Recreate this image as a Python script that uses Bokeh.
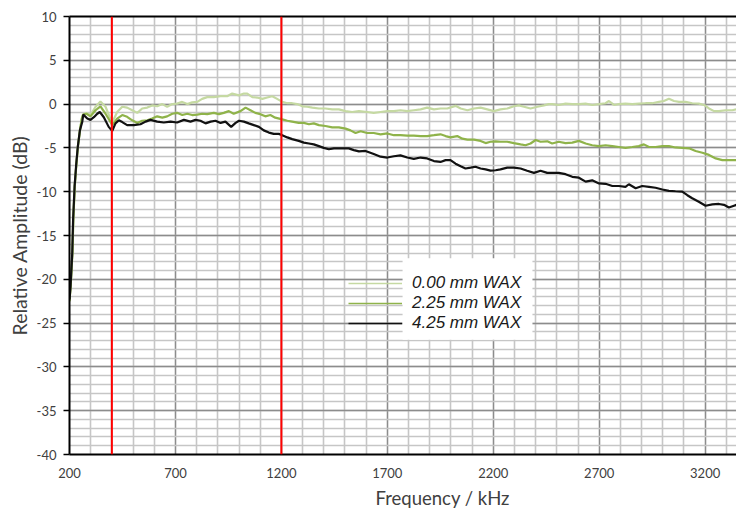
import math
from bokeh.plotting import figure
from bokeh.models import (FixedTicker, Span, Legend, LegendItem, Title,
                          LinearAxis, BoxAnnotation)
from bokeh.embed import file_html
from bokeh.resources import INLINE

# ---------------- data (frequency kHz, relative amplitude dB) ----------------
wax_000 = [(200,-22.5),(206,-20.5),(214,-16.8),(218,-13.0),(225,-9.2),(233,-6.6),(240,-4.7),
    (250,-2.9),(258,-1.6),(264,-1.2),(280,-1.0),(299,-1.25),(323,-0.3),(346,0.3),(370,-0.3),
    (390,-1.5),(402,-2.1),(425,-0.9),(449,-0.3),(472,-0.4),(496,-0.7),(520,-1.0),(543,-0.5),
    (567,-0.4),(590,-0.15),(614,-0.25),(638,0.0),(661,-0.3),(685,0.0),(708,0.05),(732,0.25),
    (756,0.0),(779,0.2),(803,0.25),(826,0.6),(850,0.8),(881,0.8),(913,0.9),(944,0.9),(968,1.2),
    (1000,1.0),(1023,1.2),(1039,1.2),(1063,0.8),(1086,0.75),(1110,0.6),(1133,0.75),(1157,0.9),
    (1180,0.6),(1204,0.25),(1228,0.1),(1251,0.1),(1275,0.0),(1299,-0.25),(1322,-0.3),(1346,-0.4),
    (1377,-0.5),(1408,-0.5),(1440,-0.6),(1471,-0.6),(1503,-0.8),(1534,-0.9),(1566,-0.8),
    (1605,-0.9),(1636,-1.0),(1668,-0.9),(1700,-0.8),(1731,-0.8),(1762,-0.7),(1794,-0.8),
    (1825,-0.7),(1857,-0.6),(1888,-0.4),(1920,-0.6),(1951,-0.5),(1983,-0.5),(2022,-0.2),
    (2046,-0.5),(2078,-0.7),(2109,-0.5),(2140,-0.4),(2172,-0.6),(2203,-0.8),(2234,-0.6),
    (2266,-0.5),(2297,-0.25),(2321,-0.15),(2345,-0.3),(2376,-0.5),(2408,-0.3),(2439,-0.15),
    (2462,0.0),(2478,0.0),(2509,-0.1),(2541,0.05),(2573,0.0),(2604,0.0),(2636,0.05),(2667,-0.1),
    (2699,0.0),(2730,0.1),(2746,0.35),(2770,-0.1),(2793,0.0),(2824,0.05),(2856,0.0),(2887,0.05),
    (2919,0.1),(2950,0.1),(2982,0.25),(3005,0.35),(3029,0.6),(3053,0.35),(3077,0.25),(3108,0.25),
    (3139,0.1),(3170,0.05),(3195,-0.1),(3218,-0.5),(3242,-0.8),(3265,-0.8),(3297,-0.7),
    (3328,-0.7),(3348,-0.6)]

wax_225 = [(200,-22.5),(206,-20.6),(214,-16.9),(218,-13.1),(225,-9.3),(233,-6.7),(240,-4.8),
    (250,-2.9),(258,-1.7),(264,-1.2),(280,-1.1),(299,-1.4),(323,-0.7),(346,-0.25),(370,-1.1),
    (390,-1.9),(402,-2.4),(425,-1.65),(449,-1.25),(472,-1.45),(496,-1.85),(520,-2.15),(543,-1.9),
    (567,-1.85),(590,-1.65),(614,-1.4),(638,-1.55),(661,-1.4),(685,-1.1),(708,-1.0),(732,-1.25),
    (756,-1.1),(779,-1.25),(803,-1.2),(826,-1.1),(850,-1.15),(881,-1.0),(905,-1.15),(928,-1.0),
    (952,-0.8),(975,-1.1),(1007,-0.8),(1031,-0.4),(1054,-0.7),(1077,-1.0),(1101,-1.15),
    (1124,-1.4),(1148,-1.25),(1171,-1.55),(1204,-1.75),(1228,-1.9),(1251,-2.0),(1282,-2.15),
    (1306,-2.15),(1330,-2.3),(1353,-2.2),(1377,-2.4),(1408,-2.5),(1440,-2.65),(1471,-2.65),
    (1503,-2.8),(1526,-3.0),(1550,-3.3),(1574,-3.1),(1605,-3.3),(1636,-3.3),(1668,-3.45),
    (1700,-3.35),(1731,-3.55),(1762,-3.55),(1794,-3.6),(1825,-3.6),(1857,-3.65),(1888,-3.65),
    (1920,-3.55),(1951,-3.45),(1975,-3.65),(1998,-3.8),(2030,-3.65),(2054,-3.95),(2078,-4.05),
    (2109,-4.05),(2140,-4.2),(2164,-4.45),(2187,-4.3),(2211,-4.25),(2234,-4.3),(2266,-4.3),
    (2297,-4.45),(2329,-4.6),(2352,-4.7),(2376,-4.5),(2400,-4.1),(2423,-4.3),(2455,-4.25),
    (2478,-4.5),(2509,-4.3),(2541,-4.45),(2573,-4.4),(2604,-4.2),(2636,-4.5),(2667,-4.7),
    (2699,-4.8),(2730,-4.7),(2762,-4.8),(2793,-4.9),(2824,-5.0),(2856,-4.9),(2887,-4.8),
    (2911,-4.6),(2935,-4.9),(2966,-4.9),(2998,-4.8),(3029,-4.8),(3060,-4.95),(3092,-5.0),
    (3124,-5.05),(3155,-5.35),(3187,-5.55),(3218,-5.8),(3250,-6.2),(3281,-6.4),(3312,-6.4),
    (3348,-6.4)]

wax_425 = [(200,-22.3),(205,-20.8),(213,-17.0),(217,-13.2),(224,-9.4),(232,-6.8),(239,-4.9),
    (249,-3.0),(260,-2.05),(265,-1.2),(284,-1.65),(299,-1.8),(315,-1.5),(331,-1.1),(343,-0.9),
    (362,-1.5),(385,-2.6),(402,-3.06),(417,-2.2),(433,-1.85),(449,-2.05),(472,-2.4),(504,-2.4),
    (535,-2.3),(559,-2.0),(582,-1.8),(614,-2.0),(645,-2.1),(677,-2.0),(708,-2.1),(740,-1.8),
    (771,-2.0),(795,-1.8),(818,-1.9),(842,-2.2),(866,-2.0),(889,-1.9),(913,-2.15),(936,-2.0),
    (963,-2.6),(984,-2.15),(1000,-1.9),(1023,-2.0),(1046,-2.2),(1070,-2.4),(1094,-2.6),
    (1117,-3.0),(1141,-3.25),(1164,-3.4),(1188,-3.4),(1204,-3.55),(1228,-3.8),(1251,-4.0),
    (1282,-4.2),(1306,-4.4),(1330,-4.5),(1353,-4.6),(1377,-4.8),(1400,-5.0),(1424,-5.15),
    (1448,-5.05),(1471,-5.05),(1495,-5.05),(1518,-5.05),(1542,-5.25),(1566,-5.4),(1597,-5.35),
    (1636,-5.7),(1668,-6.0),(1700,-6.1),(1731,-5.95),(1762,-5.85),(1794,-6.1),(1825,-6.25),
    (1857,-6.1),(1888,-6.2),(1920,-6.5),(1951,-6.6),(1975,-6.4),(1998,-6.4),(2022,-6.8),
    (2046,-7.1),(2069,-7.35),(2093,-7.25),(2116,-7.15),(2140,-7.35),(2164,-7.45),(2187,-7.6),
    (2211,-7.55),(2234,-7.45),(2266,-7.25),(2297,-7.25),(2329,-7.35),(2360,-7.6),(2392,-7.85),
    (2423,-7.6),(2455,-7.85),(2478,-7.85),(2509,-7.85),(2541,-8.0),(2573,-8.3),(2604,-8.4),
    (2636,-8.85),(2667,-8.7),(2699,-9.05),(2730,-9.1),(2762,-9.35),(2793,-9.35),(2824,-9.45),
    (2840,-9.15),(2872,-9.6),(2903,-9.35),(2935,-9.45),(2966,-9.55),(2998,-9.75),(3029,-9.9),
    (3060,-9.95),(3092,-10.0),(3116,-10.4),(3139,-10.75),(3170,-11.15),(3202,-11.6),
    (3234,-11.45),(3265,-11.4),(3289,-11.5),(3312,-11.8),(3336,-11.6),(3348,-11.5)]

series_labels = ["0.00 mm WAX", "2.25 mm WAX", "4.25 mm WAX"]
series_colors = ["#c5d9a2", "#8fb34a", "#111111"]
marker_freqs = [400, 1200]

x_ticks = [200, 700, 1200, 1700, 2200, 2700, 3200]
x_minor = list(range(200, 3400, 100))
y_ticks = [-40, -35, -30, -25, -20, -15, -10, -5, 0, 5, 10]
y_minor = list(range(-40, 11, 1))

# ---------------- figure ----------------
p = figure(width=736, height=512, x_range=(200, 3348), y_range=(-40, 10),
           output_backend="svg", toolbar_location=None,
           min_border_left=69, min_border_right=0, min_border_top=16, min_border_bottom=57)
p.outline_line_color = None
p.background_fill_color = "white"
p.border_fill_color = "white"

FONT = "Lato"
TXT = "#404040"

xt = FixedTicker(ticks=x_ticks, minor_ticks=x_minor)
yt = FixedTicker(ticks=y_ticks, minor_ticks=y_minor)
p.xaxis.ticker = xt
p.yaxis.ticker = yt
p.xgrid.ticker = xt
p.ygrid.ticker = yt

for g in (p.xgrid, p.ygrid):
    g.grid_line_color = "#8c8c8c"
    g.grid_line_width = 1.3
    g.minor_grid_line_color = "#c6c6c6"
    g.minor_grid_line_width = 1.6

# x axis
p.xaxis.axis_line_color = "black"
p.xaxis.axis_line_width = 2
p.xaxis.major_tick_out = 0
p.xaxis.major_tick_in = 0
p.xaxis.minor_tick_out = 0
p.xaxis.minor_tick_in = 0
p.xaxis.major_label_standoff = 13
p.xaxis.major_label_text_font = FONT
p.xaxis.major_label_text_font_size = "13px"
p.xaxis.major_label_text_color = TXT

# y axis
p.yaxis.axis_line_color = "black"
p.yaxis.axis_line_width = 2
p.yaxis.major_tick_out = 6
p.yaxis.major_tick_in = 0
p.yaxis.major_tick_line_color = "black"
p.yaxis.major_tick_line_width = 1.5
p.yaxis.minor_tick_out = 0
p.yaxis.minor_tick_in = 0
p.yaxis.major_label_standoff = 7
p.yaxis.major_label_text_font = FONT
p.yaxis.major_label_text_font_size = "13px"
p.yaxis.major_label_text_color = TXT
p.yaxis.major_label_overrides = {v: str(v) for v in y_ticks}

# top border line
top = LinearAxis(ticker=FixedTicker(ticks=[]), axis_line_color="black", axis_line_width=2,
                 major_tick_out=0, major_tick_in=0, minor_tick_out=0, minor_tick_in=0,
                 major_label_text_font_size="0px", major_label_standoff=0)
p.add_layout(top, "above")

# axis titles
p.add_layout(Title(text="Frequency / kHz", align="left", offset=306, standoff=8,
                   text_font=FONT, text_font_size="18.5px", text_font_style="normal",
                   text_color=TXT), "below")
p.add_layout(Title(text="Relative Amplitude (dB)", align="center", standoff=5,
                   text_font=FONT, text_font_size="19.5px", text_font_style="normal",
                   text_color=TXT), "left")

# white box behind legend text
p.add_layout(BoxAnnotation(left=1772, right=2385, top=-17.6, bottom=-26.9,
                           fill_color="white", fill_alpha=1.0, line_color=None, level="glyph"))

# curves
for data, col in zip([wax_000, wax_225, wax_425], series_colors):
    xs = [d[0] for d in data]
    ys = [d[1] for d in data]
    p.line(xs, ys, line_color=col, line_width=2.2)

# red marker lines
for f in marker_freqs:
    p.add_layout(Span(location=f, dimension="height", line_color="#ff0000", line_width=2))

# legend (thin sample lines, renderers hold no visible data)
items = []
for lab, col in zip(series_labels, series_colors):
    r = p.line([x_ticks[0]], [float("nan")], line_color=col, line_width=1.6)
    items.append(LegendItem(label=lab, renderers=[r]))
leg = Legend(items=items, location=(279, 121), padding=0, margin=0, spacing=0,
             glyph_width=54, glyph_height=20, label_height=20, label_standoff=10,
             background_fill_alpha=0, border_line_alpha=0,
             label_text_font="Liberation Sans", label_text_font_style="italic",
             label_text_font_size="17px", label_text_color="#1a1a1a")
p.add_layout(leg, "center")

open("out.html", "w").write(file_html(p, INLINE))
